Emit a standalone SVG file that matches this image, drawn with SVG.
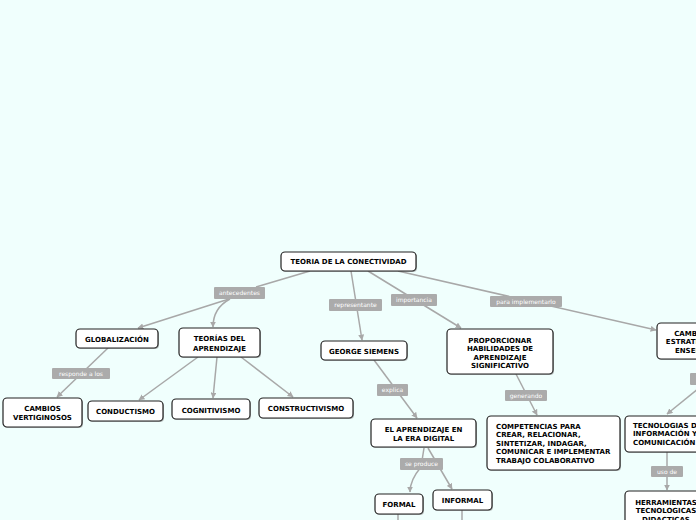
<svg xmlns="http://www.w3.org/2000/svg" width="696" height="520" viewBox="0 0 696 520">
<defs>
<marker id="arr" viewBox="0 0 10 10" refX="9" refY="5" markerWidth="6" markerHeight="6" orient="auto" markerUnits="userSpaceOnUse">
<path d="M0,0 L10,5 L0,10 z" fill="#a8a8a8"/>
</marker>
<style>
.bg{fill:#f0fffd}
.c{fill:none;stroke:#a8a8a8;stroke-width:1.5}
.ca{fill:none;stroke:#a8a8a8;stroke-width:1.5;marker-end:url(#arr)}
.box{fill:#fff;stroke:#222;stroke-width:1.2}
.sh{fill:#777;opacity:0.5}
.t{font-family:"DejaVu Sans",Verdana,sans-serif;font-weight:bold;font-size:7px;fill:#000;text-anchor:middle}
.tl{font-family:"DejaVu Sans",Verdana,sans-serif;font-weight:bold;font-size:7px;fill:#000;text-anchor:start}
.lb{fill:#ababab}
.lt{font-family:"DejaVu Sans",Verdana,sans-serif;font-size:6px;fill:#fff;text-anchor:middle}
</style>
</defs>
<rect class="bg" x="0" y="0" width="696" height="520"/>
<g id="connectors">
<line class="c" x1="310" y1="271" x2="256" y2="287"/>
<line class="ca" x1="229" y1="299" x2="138" y2="328"/>
<path class="ca" d="M230 299 Q213 308 213 327"/>
<line class="ca" x1="108" y1="348" x2="57" y2="397"/>
<line class="ca" x1="198" y1="357" x2="139" y2="400"/>
<line class="ca" x1="217" y1="357" x2="213" y2="398"/>
<line class="ca" x1="241" y1="357" x2="293" y2="397"/>
<line class="ca" x1="351" y1="271" x2="362" y2="340"/>
<line class="ca" x1="368" y1="271" x2="461" y2="328"/>
<line class="ca" x1="398" y1="271" x2="656" y2="330"/>
<line class="ca" x1="516" y1="374" x2="537" y2="415"/>
<line class="ca" x1="374" y1="360" x2="417" y2="418"/>
<path class="ca" d="M424 448 L421 467 Q410 480 410 492"/>
<line class="ca" x1="428" y1="448" x2="452" y2="489"/>
<line class="c" x1="700" y1="359" x2="700" y2="373"/>
<line class="ca" x1="704" y1="384" x2="667" y2="414"/>
<line class="ca" x1="667" y1="452" x2="667" y2="490"/>
<line class="c" x1="398" y1="514" x2="398" y2="520"/>
<line class="c" x1="462" y1="510" x2="462" y2="520"/>
</g>
<g id="labels">
<rect class="lb" x="214" y="287" width="51" height="12" rx="1"/><text class="lt" x="239.5" y="295.3">antecedentes</text>
<rect class="lb" x="52" y="368" width="58" height="11" rx="1"/><text class="lt" x="81" y="375.8">responde a los</text>
<rect class="lb" x="329" y="299" width="53" height="12" rx="1"/><text class="lt" x="355.5" y="307.3">representante</text>
<rect class="lb" x="391" y="294" width="46" height="12" rx="1"/><text class="lt" x="414" y="302.3">importancia</text>
<rect class="lb" x="490" y="296" width="72" height="11" rx="1"/><text class="lt" x="526" y="303.8">para implementarlo</text>
<rect class="lb" x="505" y="390" width="42" height="11" rx="1"/><text class="lt" x="526" y="397.8">generando</text>
<rect class="lb" x="377" y="384" width="31" height="12" rx="1"/><text class="lt" x="392.5" y="392.3">explica</text>
<rect class="lb" x="400" y="458" width="43" height="12" rx="1"/><text class="lt" x="421.5" y="466.3">se produce</text>
<rect class="lb" x="690" y="373" width="40" height="12" rx="1"/>
<rect class="lb" x="651" y="466" width="32" height="11" rx="1"/><text class="lt" x="667" y="473.8">uso de</text>
</g>
<g id="root">
<rect class="sh" x="282" y="253" width="135" height="19" rx="4"/>
<rect class="box" x="281" y="252" width="135" height="19" rx="4"/>
<text class="t" x="348.5" y="264.2">TEORIA DE LA CONECTIVIDAD</text>
</g>
<g id="globalizacion">
<rect class="sh" x="77" y="330" width="82" height="19" rx="4"/>
<rect class="box" x="76" y="329" width="82" height="19" rx="4"/>
<text class="t" x="117" y="341.5">GLOBALIZACIÓN</text>
</g>
<g id="teorias">
<rect class="sh" x="180" y="329" width="81" height="29" rx="4"/>
<rect class="box" x="179" y="328" width="81" height="29" rx="4"/>
<text class="t" x="219.5" y="341">TEORÍAS DEL</text>
<text class="t" x="219.5" y="350.5">APRENDIZAJE</text>
</g>
<g id="cambios">
<rect class="sh" x="4" y="399" width="79" height="29" rx="4"/>
<rect class="box" x="3" y="398" width="79" height="29" rx="4"/>
<text class="t" x="42.5" y="410.5">CAMBIOS</text>
<text class="t" x="42.5" y="420">VERTIGINOSOS</text>
</g>
<g id="conductismo">
<rect class="sh" x="89" y="402" width="75" height="20" rx="4"/>
<rect class="box" x="88" y="401" width="75" height="20" rx="4"/>
<text class="t" x="125.5" y="414">CONDUCTISMO</text>
</g>
<g id="cognitivismo">
<rect class="sh" x="173" y="400" width="78" height="20" rx="4"/>
<rect class="box" x="172" y="399" width="78" height="20" rx="4"/>
<text class="t" x="211" y="413">COGNITIVISMO</text>
</g>
<g id="constructivismo">
<rect class="sh" x="260" y="399" width="94" height="20" rx="4"/>
<rect class="box" x="259" y="398" width="94" height="20" rx="4"/>
<text class="t" x="306" y="410.5">CONSTRUCTIVISMO</text>
</g>
<g id="siemens">
<rect class="sh" x="322" y="342" width="86" height="19" rx="4"/>
<rect class="box" x="321" y="341" width="86" height="19" rx="4"/>
<text class="t" x="364" y="353.5">GEORGE SIEMENS</text>
</g>
<g id="proporcionar">
<rect class="sh" x="448" y="330" width="106" height="45" rx="4"/>
<rect class="box" x="447" y="329" width="106" height="45" rx="4"/>
<text class="t" x="500" y="342.5">PROPORCIONAR</text>
<text class="t" x="500" y="351">HABILIDADES DE</text>
<text class="t" x="500" y="359.5">APRENDIZAJE</text>
<text class="t" x="500" y="368">SIGNIFICATIVO</text>
</g>
<g id="estrategias">
<rect class="sh" x="658" y="324" width="84" height="36" rx="4"/>
<rect class="box" x="657" y="323" width="84" height="36" rx="4"/>
<text class="t" x="699" y="335.5">CAMBIOS EN</text>
<text class="t" x="699" y="344">ESTRATEGIAS DE</text>
<text class="t" x="699" y="352.5">ENSEÑANZA</text>
</g>
<g id="competencias">
<rect class="sh" x="488" y="417" width="133" height="54" rx="4"/>
<rect class="box" x="487" y="416" width="133" height="54" rx="4"/>
<text class="tl" x="496" y="428.5">COMPETENCIAS PARA</text>
<text class="tl" x="496" y="437">CREAR, RELACIONAR,</text>
<text class="tl" x="496" y="445.5">SINTETIZAR, INDAGAR,</text>
<text class="tl" x="496" y="454">COMUNICAR E IMPLEMENTAR</text>
<text class="tl" x="496" y="462.5">TRABAJO COLABORATIVO</text>
</g>
<g id="tecnologias">
<rect class="sh" x="626" y="417" width="90" height="36" rx="4"/>
<rect class="box" x="625" y="416" width="90" height="36" rx="4"/>
<text class="tl" x="633" y="427.5">TECNOLOGIAS DE LA</text>
<text class="tl" x="633" y="436">INFORMACIÓN Y LA</text>
<text class="tl" x="633" y="444.5">COMUNICACIÓN</text>
</g>
<g id="aprendizaje-digital">
<rect class="sh" x="372" y="420" width="105" height="28" rx="4"/>
<rect class="box" x="371" y="419" width="105" height="28" rx="4"/>
<text class="t" x="423.5" y="431.5">EL APRENDIZAJE EN</text>
<text class="t" x="423.5" y="440.5">LA ERA DIGITAL</text>
</g>
<g id="formal">
<rect class="sh" x="376" y="495" width="48" height="20" rx="4"/>
<rect class="box" x="375" y="494" width="48" height="20" rx="4"/>
<text class="t" x="399" y="506.5">FORMAL</text>
</g>
<g id="informal">
<rect class="sh" x="434" y="491" width="59" height="20" rx="4"/>
<rect class="box" x="433" y="490" width="59" height="20" rx="4"/>
<text class="t" x="462.5" y="502.5">INFORMAL</text>
</g>
<g id="herramientas">
<rect class="sh" x="626" y="492" width="84" height="40" rx="4"/>
<rect class="box" x="625" y="491" width="84" height="40" rx="4"/>
<text class="t" x="666" y="504.5">HERRAMIENTAS</text>
<text class="t" x="666" y="513">TECNOLOGICAS</text>
<text class="t" x="666" y="521.5">DIDACTICAS</text>
</g>
</svg>
